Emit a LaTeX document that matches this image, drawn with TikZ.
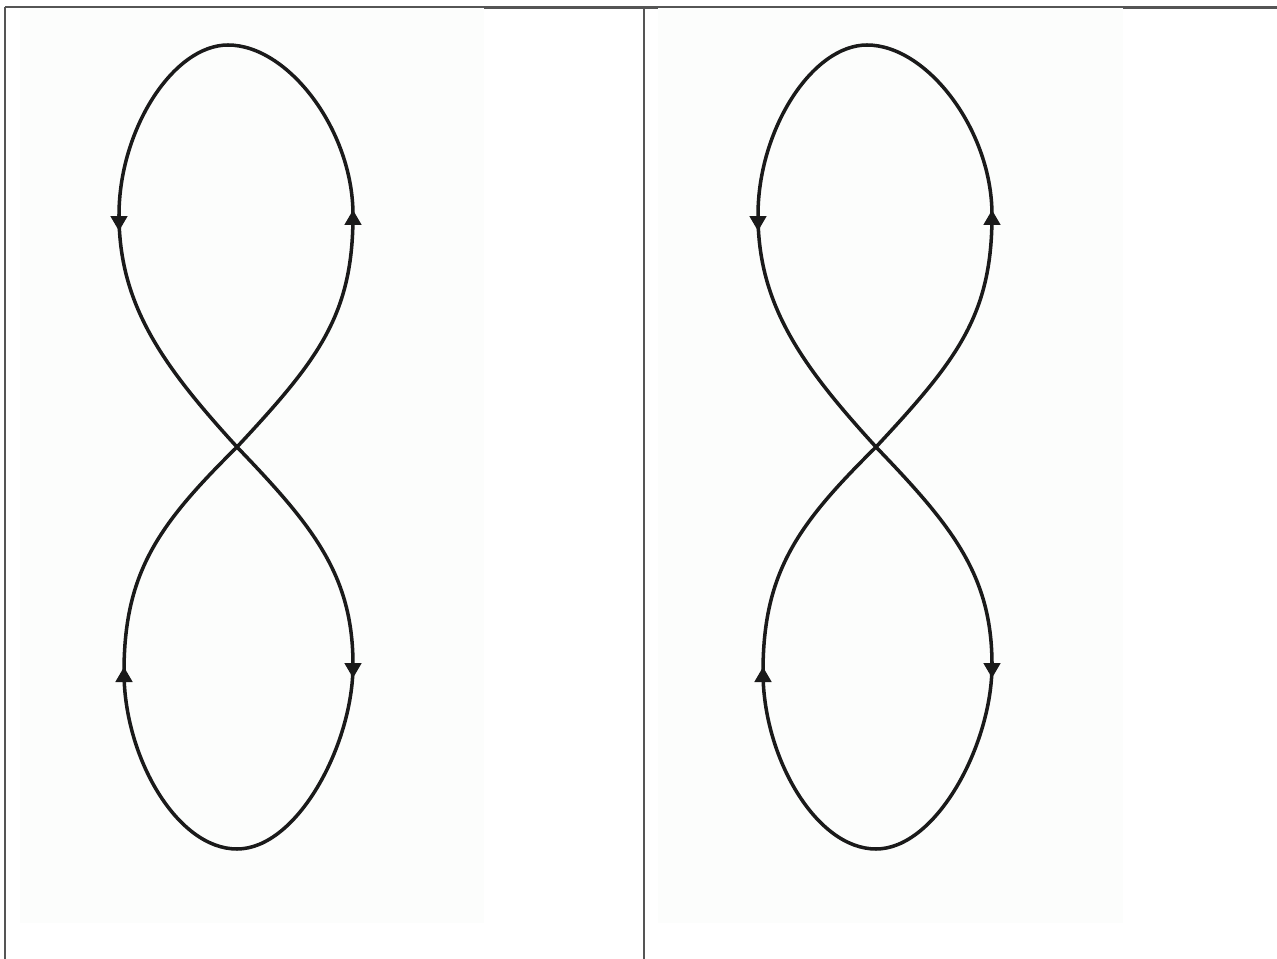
\documentclass[tikz,border=0pt]{standalone}
\usetikzlibrary{arrows.meta}
\definecolor{paper}{HTML}{FCFDFC}
\definecolor{rule}{HTML}{555555}
\definecolor{ink}{HTML}{1A1A1A}
\tikzset{
  curve/.style={line width=2pt, draw=ink, line join=round},
  arr/.style={draw=ink, line width=1pt, -{Triangle[width=0.34cm,length=0.3cm]}},
  frame/.style={draw=rule, line width=0.9pt},
  frameth/.style={draw=rule, line width=1.6pt},
}
\begin{document}
\begin{tikzpicture}[x=0.02cm,y=-0.02cm]
\useasboundingbox (0,0) rectangle (1277,959);
% image backgrounds
\fill[paper] (20,8) rectangle (484,923);
\fill[paper] (658,8) rectangle (1123,923);
% table rules
\draw[frame] (5,7) -- (1277,7);
\draw[frameth] (484,7.6) -- (658,7.6);
\draw[frameth] (1123,7.6) -- (1277,7.6);
\draw[frame] (5,7) -- (5,959);
\draw[frame] (644,7) -- (644,959);
% two figure-eights
\foreach \s in {0,639}{
\begin{scope}[xshift=\s*0.02cm]
\coordinate (T) at (228,45);
\coordinate (L1) at (119,215);
\coordinate (C) at (237,447);
\coordinate (R2) at (353,665);
\coordinate (B) at (237,849);
\coordinate (L2) at (124,672);
\coordinate (R1) at (353,215);
\draw[curve] (T) .. controls (173,45) and (119,130) .. (L1)
  .. controls (119,305) and (163,366) .. (C)
  .. controls (313,526) and (353,575) .. (R2)
  .. controls (353,745) and (297,849) .. (B)
  .. controls (177,849) and (124,757) .. (L2)
  .. controls (124,572) and (159,524) .. (C)
  .. controls (318.6,359.4) and (353,315) .. (R1)
  .. controls (353,130) and (288,45) .. (T);
\coordinate (a1s) at (119,208); \coordinate (a1e) at (119,231);
\coordinate (a2s) at (353,233); \coordinate (a2e) at (353,210);
\coordinate (a3s) at (124,690); \coordinate (a3e) at (124,667);
\coordinate (a4s) at (353,655); \coordinate (a4e) at (353,678);
\draw[arr] (a1s) -- (a1e);
\draw[arr] (a2s) -- (a2e);
\draw[arr] (a3s) -- (a3e);
\draw[arr] (a4s) -- (a4e);
\end{scope}
}
\end{tikzpicture}
\end{document}
